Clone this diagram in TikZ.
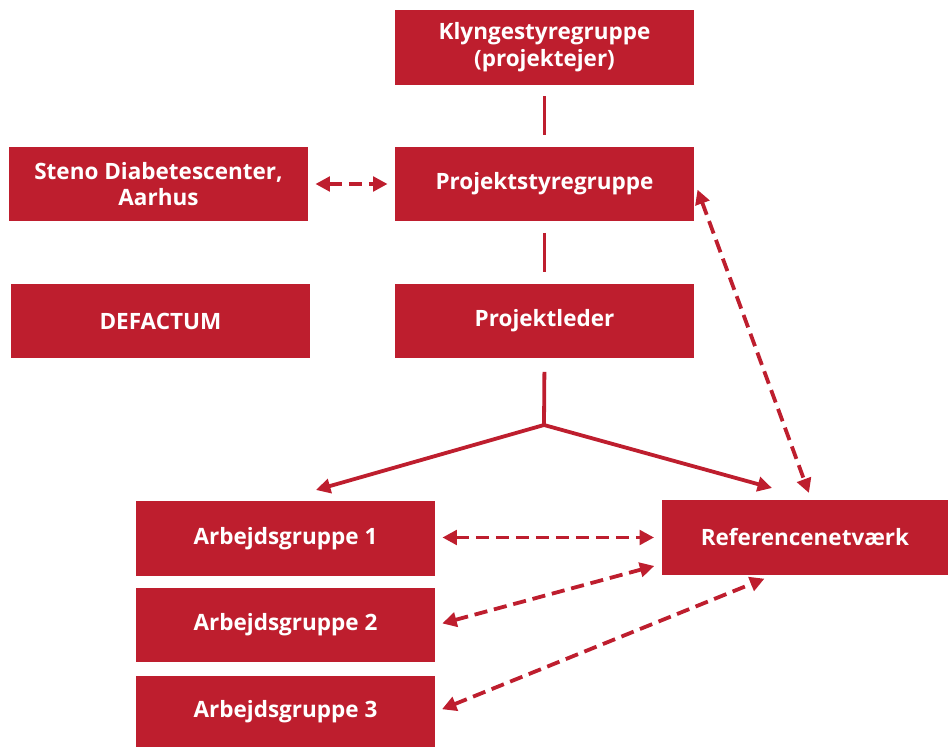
\documentclass[tikz,border=0pt]{standalone}
\usepackage{fontspec}
\setmainfont{Open Sans}
\usetikzlibrary{
    arrows.meta,
    calc,
    positioning
}
\definecolor{steno}{RGB}{190,30,46}
\tikzset{
    every picture/.style = {
        > = {Triangle[length = 0.36cm, width = 0.36cm]},
        line width = 2.7pt,
        x = 0.025cm,
        y = -0.025cm
    },
    box/.style = {
        fill = steno,
        text = white,
        font = \fontsize{16}{19}\selectfont\bfseries,
        align = center,
        inner sep = 2pt,
        minimum width = 7.45cm,
        minimum height = 1.85cm
    },
    link/.style = {
        draw = steno,
        shorten < = 0.25cm,
        shorten > = 0.25cm
    },
    dlink/.style = {
        draw = steno,
        <->,
        dash pattern = on 0.33cm off 0.17cm,
        shorten < = 0.15cm,
        shorten > = 0.15cm
    }
}

\begin{document}
\begin{tikzpicture}
    \useasboundingbox (0, 0) rectangle (950, 747);

    \node[box] (klynge) at (544.5, 47.5) {Klyngestyregruppe \\ (projektejer)};
    \node[box] (pstyre) at (544.5, 184) {Projektstyregruppe};
    \node[box] (pleder) at (544.5, 321) {Projektleder};
    \node[box] (steno) at (158.5, 184) {Steno Diabetescenter, \\ Aarhus};
    \node[box] (defactum) at (160.5, 321) {DEFACTUM};

    \node[box] (ag1) at (285.5, 538.5) {Arbejdsgruppe 1};
    \node[box] (ag2) at (285.5, 625) {Arbejdsgruppe 2};
    \node[box, minimum height = 1.78cm] (ag3) at (285.5, 711.5) {Arbejdsgruppe 3};
    \node[box, minimum width = 7.15cm] (ref) at (805, 537.5) {Referencenetværk};

    % hierarki
    \draw[link] (klynge) -- (pstyre);
    \draw[link] (pstyre) -- (pleder);
    \coordinate (branch) at (544, 425);
    \coordinate (agtip) at (316, 490);
    \coordinate (reftip) at (772, 488);
    \draw[steno, shorten < = 0.3cm] (pleder.south) -- (branch);
    \draw[steno, ->] (branch) -- (agtip);
    \draw[steno, ->] (branch) -- (reftip);

    % samarbejde
    \draw[dlink] (steno) -- (pstyre);
    \draw[dlink, shorten > = 0.15cm] (pstyre.east) -- ($(ref.north) + (6, 0)$);
    \draw[dlink] (ag1.east |- ref.west) -- (ref.west);
    \draw[dlink] (ag2.east) -- ($(ref.south west) + (0, -12)$);
    \draw[dlink] (ag3.east) -- ($(ref.south) + (-35, 0)$);
\end{tikzpicture}
\end{document}
